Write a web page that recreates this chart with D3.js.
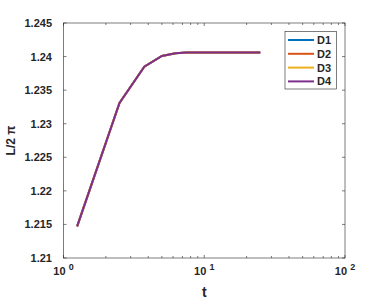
<!DOCTYPE html>
<html><head><meta charset="utf-8">
<script src="https://cdn.jsdelivr.net/npm/d3@7"></script>
<style>body{margin:0;background:#fff}svg{display:block}text{font-family:"Liberation Sans",Arial,sans-serif;font-weight:bold;fill:#262626}</style>
</head><body>
<script>
const seriesNames = ["D1","D2","D3","D4"];
const colors = ["#0072BD","#D95319","#EDB120","#7E2F8E"];
const tValues = [1.25,2.5,3.75,5,6.25,7.5,8.75,10,11.25,12.5,13.75,15,16.25,17.5,18.75,20,21.25,22.5,23.75,25];
const lValues = [1.2147,1.2331,1.2385,1.2401,1.2405,1.2406,1.2406,1.2406,1.2406,1.2406,1.2406,1.2406,1.2406,1.2406,1.2406,1.2406,1.2406,1.2406,1.2406,1.2406];
const seriesValues = [lValues, lValues, lValues, lValues];
const yTicks = [1.21,1.215,1.22,1.225,1.23,1.235,1.24,1.245];
const yTickLabels = ["1.21","1.215","1.22","1.225","1.23","1.235","1.24","1.245"];
const xMajor = [1,10,100];
const xMajorExp = ["0","1","2"];

const W=382,H=302, L=63.5, R=345, T=23, B=258;
const svg=d3.select("body").append("svg").attr("width",W).attr("height",H);
const x=d3.scaleLog().domain([1,100]).range([L,R]);
const y=d3.scaleLinear().domain([1.21,1.245]).range([B,T]);
const ac="#262626";
// minor ticks
const minors=[];
for(let d=1;d<100;d*=10) for(let k=2;k<10;k++) minors.push(d*k);
const g=svg.append("g").attr("stroke",ac).attr("stroke-width",0.6);
minors.forEach(v=>{
  g.append("line").attr("x1",x(v)).attr("x2",x(v)).attr("y1",B).attr("y2",B-2);
  g.append("line").attr("x1",x(v)).attr("x2",x(v)).attr("y1",T).attr("y2",T+2);
});
xMajor.forEach(v=>{
  g.append("line").attr("x1",x(v)).attr("x2",x(v)).attr("y1",B).attr("y2",B-3);
  g.append("line").attr("x1",x(v)).attr("x2",x(v)).attr("y1",T).attr("y2",T+3);
});
yTicks.forEach(v=>{
  g.append("line").attr("x1",L).attr("x2",L+3).attr("y1",y(v)).attr("y2",y(v));
  g.append("line").attr("x1",R).attr("x2",R-3).attr("y1",y(v)).attr("y2",y(v));
});
svg.append("rect").attr("x",L).attr("y",T).attr("width",R-L).attr("height",B-T)
  .attr("fill","none").attr("stroke",ac).attr("stroke-width",0.6);
// tick labels
yTicks.forEach((v,i)=>{
  svg.append("text").attr("x",52).attr("y",y(v)+4).attr("text-anchor","end")
    .attr("font-size",11).text(yTickLabels[i]);
});
xMajor.forEach((v,i)=>{
  const t=svg.append("text").attr("x",x(v)).attr("y",275).attr("text-anchor","middle").attr("font-size",11);
  t.append("tspan").text("10 ");
  t.append("tspan").attr("dy",-5).attr("font-size",9).text(xMajorExp[i]);
});
svg.append("text").attr("x",(L+R)/2).attr("y",297).attr("text-anchor","middle").attr("font-size",14).text("t");
svg.append("text").attr("transform",`translate(15,${(T+B)/2}) rotate(-90)`).attr("text-anchor","middle")
  .attr("font-size",12).text("L/2 π");
// lines
const line=d3.line().x((d,i)=>x(tValues[i])).y(d=>y(d));
seriesValues.forEach((s,i)=>{
  svg.append("path").datum(s).attr("d",line).attr("fill","none").attr("stroke",colors[i]).attr("stroke-width",2);
});
// legend
const lg=svg.append("g");
lg.append("rect").attr("x",285).attr("y",31.5).attr("width",51.5).attr("height",57.5)
  .attr("fill","#fff").attr("stroke",ac).attr("stroke-width",0.6);
seriesNames.forEach((n,i)=>{
  const yy=40+i*13.8;
  lg.append("line").attr("x1",288).attr("x2",314).attr("y1",yy).attr("y2",yy).attr("stroke",colors[i]).attr("stroke-width",2);
  lg.append("text").attr("x",317).attr("y",yy+4).attr("font-size",11).text(n);
});
</script>
</body></html>
